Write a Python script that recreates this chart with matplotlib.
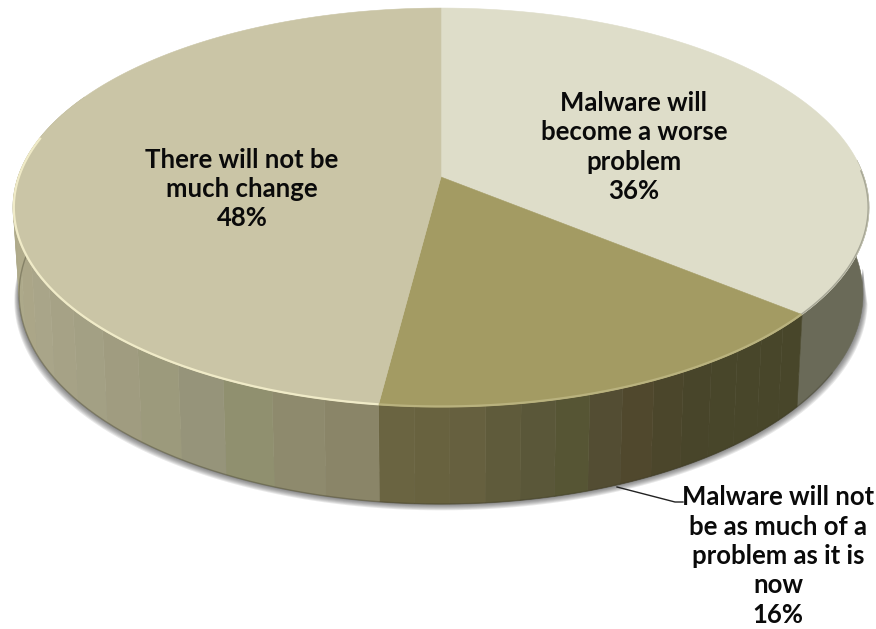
import numpy as np
import matplotlib
matplotlib.use('Agg')
import matplotlib.pyplot as plt
from matplotlib.patches import Polygon

plt.rcParams['font.family'] = ['Lato', 'DejaVu Sans']

shares = [36, 16, 48]
labels = ['Malware will\nbecome a worse\nproblem',
          'Malware will not\nbe as much of a\nproblem as it is\nnow',
          'There will not be\nmuch change']
top_colors = ['#DEDDC9', '#A39B63', '#CAC5A6']

# side wall shading, clockwise from the start of each slice
wall_bands = [
    ['#6A6A58'],
    ['#48462A', '#48462A', '#48462A', '#48462A', '#48452A', '#4B462B', '#50482D',
     '#534D33', '#565534', '#5A5739', '#5F5B3B', '#66603F', '#68623F', '#6A6441'],
    ['#8A8568', '#8E8A6D', '#90906F', '#96947A', '#9C9A7C', '#A09C80', '#A3A084',
     '#A6A286', '#A9A589', '#ABA688', '#ADA98A', '#AEAA8A', '#B0AB8B', '#B2AD8D',
     '#B3AE8F', '#B4AF90', '#B5B092'],
]
rim_colors = ['#A6A696', '#B9B27E', '#F0EBC8']

# visible part of the side wall, degrees clockwise from 12 o'clock
wall_start, wall_end = 85.0, 296.0

cx, cy = 441.0, 177.0


def top_xy(deg, r=1.0):
    t = np.radians(deg)
    w = 1 + 0.153 * r * np.cos(t)
    return cx + 423 * r * np.sin(t) / w, cy - 194.8 * r * np.cos(t) / w


def base_xy(deg):
    t = np.radians(deg)
    w = 1 + 0.153 * np.cos(t)
    return cx + 417 * np.sin(t) / w, cy + 85 - 205 * np.cos(t) / w


fig = plt.figure(figsize=(8.76, 6.29), dpi=100)
ax = fig.add_axes([0, 0, 1, 1])
ax.set_xlim(0, 876)
ax.set_ylim(629, 0)
ax.axis('off')

edges = np.cumsum([0] + shares) * 3.6

# soft shadow below the base
arc = np.linspace(100, 280, 200)
for grow in np.arange(7, 0, -1):
    bx, by = base_xy(arc)
    px = cx + (bx - cx) * (1 + grow * 0.0016)
    py = by + grow * 0.9
    ax.add_patch(Polygon(np.c_[np.r_[bx, px[::-1]], np.r_[by - 30, py[::-1]]],
                         fc='#444444', ec='none', alpha=0.12, zorder=1))

# side wall, one quad per shading band
for i, bands in enumerate(wall_bands):
    a0 = max(edges[i], wall_start)
    a1 = min(edges[i + 1], wall_end)
    steps = np.linspace(a0, a1, len(bands) + 1)
    for j, col in enumerate(bands):
        seg = np.linspace(steps[j], steps[j + 1], 30)
        tx, ty = top_xy(seg)
        bx, by = base_xy(seg)
        ax.add_patch(Polygon(np.c_[np.r_[tx, bx[::-1]], np.r_[ty, by[::-1]]],
                             fc=col, ec=col, lw=0.4, zorder=2))

# darker line along the foot of the wall
foot = np.linspace(120, wall_end, 200)
ax.plot(*base_xy(foot), color='#3A3826', lw=1.0, alpha=0.35, zorder=3)

# top face
for i, col in enumerate(top_colors):
    seg = np.linspace(edges[i], edges[i + 1], 200)
    tx, ty = top_xy(seg)
    ax.add_patch(Polygon(np.c_[np.r_[cx, tx], np.r_[cy, ty]],
                         fc=col, ec=col, lw=0.4, zorder=4))

# rim along the front edge, shaded on the right and bright on the left
for i, col in enumerate(rim_colors):
    a0 = max(edges[i], 88.0)
    a1 = min(edges[i + 1], 282.0)
    seg = np.linspace(a0, a1, 150)
    tx, ty = top_xy(seg, 0.998)
    ax.plot(tx, ty, color=col, lw=1.0 if i == 0 else 1.6,
            solid_capstyle='butt', zorder=5)

# label placement
text_x = [634, 778, 242]
text_y = [147, 556, 189]
for lab, pct, x, y in zip(labels, shares, text_x, text_y):
    ax.text(x, y, f'{lab}\n{pct}%', ha='center', va='center', fontsize=18.5,
            fontweight='bold', color='#0A0A0A', linespacing=1.27, zorder=6)

# leader line to the small slice
leader_x = [617, 675, 683]
leader_y = [487, 502, 502]
ax.plot(leader_x, leader_y, color='#222222', lw=1.0, zorder=2)

fig.savefig('out.png', dpi=100, facecolor='white')
